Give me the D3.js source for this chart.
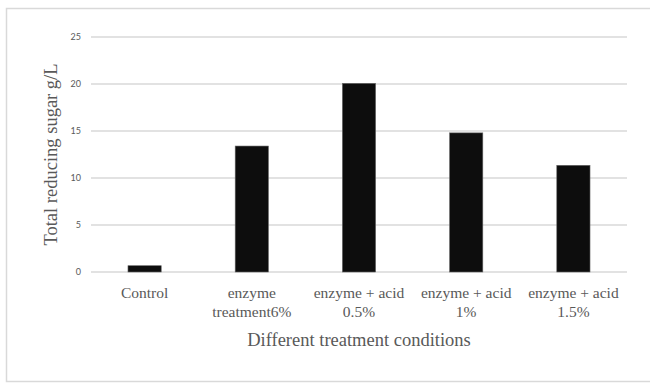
<!DOCTYPE html>
<html lang="en">
<head>
  <meta charset="UTF-8">
  <title>Total reducing sugar</title>
  <script src="https://d3js.org/d3.v7.min.js"></script>
  <style>
    body { margin: 0; background: #fff; }
    svg { display: block; }
    .tick-label { font-family: "Lato", "Liberation Sans", sans-serif; font-size: 9px; fill: #595959; }
    .cat-label { font-family: "Liberation Serif", serif; font-size: 15.5px; fill: #595959; }
    .axis-title { font-family: "Liberation Serif", serif; font-size: 18.5px; fill: #595959; }
  </style>
</head>
<body>
  <svg id="chart" width="650" height="383"></svg>

  <script>
    const categories = ["Control", "enzyme treatment6%", "enzyme + acid 0.5%", "enzyme + acid 1%", "enzyme + acid 1.5%"];
    const sugarValues = [0.67, 13.4, 20.07, 14.8, 11.35];
    const yTicks = [0, 5, 10, 15, 20, 25];

    const svg = d3.select("#chart");
    const margin = { left: 91, right: 23, top: 37, bottom: 111 };
    const width = 650, height = 383;

    // chart area border
    svg.append("rect")
      .attr("x", 6.5).attr("y", 8.5)
      .attr("width", 660).attr("height", 373)
      .attr("fill", "#fff")
      .attr("stroke", "#d9d9d9")
      .attr("stroke-width", 1.5);

    const x = d3.scaleBand()
      .domain(categories)
      .range([margin.left, width - margin.right])
      .paddingInner(0.69)
      .paddingOuter(0.345);

    const y = d3.scaleLinear()
      .domain([0, 25])
      .range([height - margin.bottom, margin.top]);

    // gridlines
    svg.append("g")
      .selectAll("line")
      .data(yTicks)
      .join("line")
      .attr("x1", margin.left)
      .attr("x2", width - margin.right)
      .attr("y1", d => y(d))
      .attr("y2", d => y(d))
      .attr("stroke", "#d9d9d9")
      .attr("stroke-width", 1.3);

    // y tick labels
    svg.append("g")
      .selectAll("text")
      .data(yTicks)
      .join("text")
      .attr("class", "tick-label")
      .attr("x", margin.left - 10)
      .attr("y", d => y(d))
      .attr("dy", "0.35em")
      .attr("text-anchor", "end")
      .text(d => d);

    // bars
    svg.append("g")
      .selectAll("rect")
      .data(categories)
      .join("rect")
      .attr("x", d => x(d))
      .attr("y", (d, i) => y(sugarValues[i]))
      .attr("width", x.bandwidth())
      .attr("height", (d, i) => y(0) - y(sugarValues[i]))
      .attr("fill", "#0d0d0d")
      .attr("stroke", "#666")
      .attr("stroke-width", 0.6);

    // category labels, split on the last space
    const catLabels = svg.append("g")
      .selectAll("text")
      .data(categories)
      .join("text")
      .attr("class", "cat-label")
      .attr("text-anchor", "middle")
      .attr("x", d => x(d) + x.bandwidth() / 2)
      .attr("y", 298);

    catLabels.each(function(d) {
      const t = d3.select(this);
      const cut = d.lastIndexOf(" ");
      const lines = (d === "Control" || cut < 0) ? [d] : [d.slice(0, cut), d.slice(cut + 1)];
      lines.forEach((line, i) => {
        t.append("tspan")
          .attr("x", x(d) + x.bandwidth() / 2)
          .attr("dy", i === 0 ? 0 : 19)
          .text(line);
      });
    });

    // axis titles
    svg.append("text")
      .attr("class", "axis-title")
      .attr("text-anchor", "middle")
      .attr("x", (margin.left + width - margin.right) / 2)
      .attr("y", 346)
      .text("Different treatment conditions");

    svg.append("text")
      .attr("class", "axis-title")
      .attr("text-anchor", "middle")
      .attr("transform", "translate(57," + y(12.5) + ") rotate(-90)")
      .text("Total reducing sugar g/L");
  </script>
</body>
</html>
